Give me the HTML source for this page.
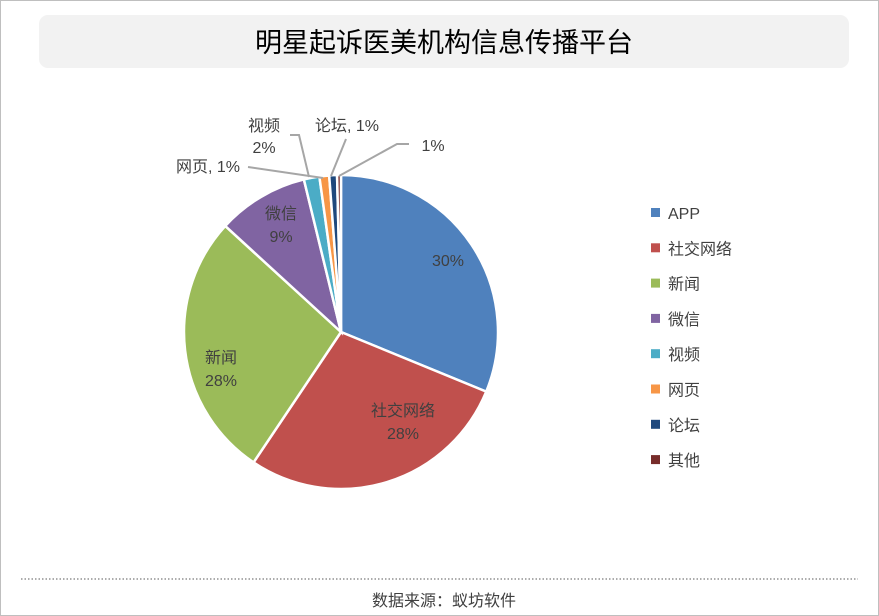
<!DOCTYPE html>
<html><head><meta charset="utf-8"><style>
body{margin:0;background:#fff;font-family:"Liberation Sans","Noto Sans CJK SC",sans-serif}
#c{position:relative;width:877px;height:614px;border:1px solid #bfbfbf;background:#fff}
</style></head><body>
<div id="c">
<svg width="877" height="614" style="position:absolute;left:0;top:0">
<rect x="38" y="14" width="810" height="53" rx="9" fill="#f2f2f2"/>
<text x="443" y="51" text-anchor="middle" font-size="27" fill="#000">明星起诉医美机构信息传播平台</text>
<g id="pie"></g>
<g id="lab" font-size="16" fill="#404040"></g>
<g id="leg" font-size="16" fill="#404040"></g>
<line x1="20" y1="578" x2="857" y2="578" stroke="#595959" stroke-dasharray="1.5,2"/>
<text x="443" y="605" text-anchor="middle" font-size="16" fill="#404040">数据来源：蚁坊软件</text>
</svg></div>
<script>
const categories=["APP","社交网络","新闻","微信","视频","网页","论坛","其他"];
const values=[31.2,28.2,27.4,9.4,1.6,1.0,0.8,0.4];
const valueLabels=["30%","28%","28%","9%","2%","1%","1%","1%"];
const colors=["#4f81bd","#c0504d","#9bbb59","#8064a2","#4bacc6","#f79646","#1f497d","#772c2a"];
const NS="http://www.w3.org/2000/svg";
const cx=340,cy=331,r=157;
const total=values.reduce((a,b)=>a+b,0);
function pt(a,rr){return [cx+rr*Math.sin(a),cy-rr*Math.cos(a)];}
const pie=document.getElementById('pie');
let acc=0;
values.forEach((v,i)=>{
 const a0=acc/total*2*Math.PI; acc+=v; const a1=acc/total*2*Math.PI;
 const p0=pt(a0,r),p1=pt(a1,r);
 const p=document.createElementNS(NS,'path');
 p.setAttribute('d',`M${cx},${cy}L${p0[0]},${p0[1]}A${r},${r} 0 ${a1-a0>Math.PI?1:0} 1 ${p1[0]},${p1[1]}Z`);
 p.setAttribute('fill',colors[i]);p.setAttribute('stroke','#fff');p.setAttribute('stroke-width','2.5');
 
 
 pie.appendChild(p);
});
const lab=document.getElementById('lab');
function txt(x,y,s,anchor){const t=document.createElementNS(NS,'text');t.setAttribute('x',x);t.setAttribute('y',y);t.setAttribute('text-anchor',anchor||'middle');t.textContent=s;


lab.appendChild(t);}
function line(pts){const l=document.createElementNS(NS,'polyline');l.setAttribute('points',pts);l.setAttribute('fill','none');l.setAttribute('stroke','#a6a6a6');l.setAttribute('stroke-width','2');


lab.appendChild(l);}
txt(447,265,valueLabels[0]);
txt(402,415,categories[1]);txt(402,438,valueLabels[1]);
txt(220,362,categories[2]);txt(220,385,valueLabels[2]);
txt(280,218,categories[3]);txt(280,241,valueLabels[3]);
txt(263,130,categories[4]);txt(263,152,valueLabels[4]);
txt(207,171,categories[5]+", "+valueLabels[5]);
txt(346,130,categories[6]+", "+valueLabels[6]);
txt(432,150,valueLabels[7]);
line("289,134 298,134 308,176");
line("247,166 322,177");
line("345,138 330,175");
line("408,143 396,143 338,175");
const leg=document.getElementById('leg');
categories.forEach((c,i)=>{
 const y=212+i*35.3;
 const rc=document.createElementNS(NS,'rect');rc.setAttribute('x',650);rc.setAttribute('y',y-5);rc.setAttribute('width',9);rc.setAttribute('height',9);rc.setAttribute('fill',colors[i]);
 
 
 leg.appendChild(rc);
 const t=document.createElementNS(NS,'text');t.setAttribute('x',667);t.setAttribute('y',y+6);t.textContent=c;
 
 
 leg.appendChild(t);
});
</script>
</body></html>
